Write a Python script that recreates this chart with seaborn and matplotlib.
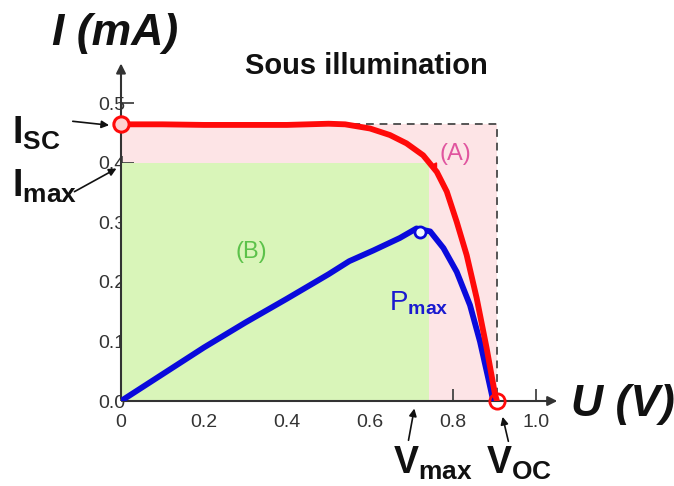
import matplotlib
matplotlib.use("Agg")
import matplotlib.pyplot as plt
import seaborn as sns
import pandas as pd

# I-V characteristic of the cell under illumination (U in V, I in mA)
u_iv = [0.0, 0.1, 0.2, 0.3, 0.4, 0.5, 0.54, 0.6, 0.648, 0.688, 0.728, 0.761, 0.785,
        0.809, 0.833, 0.857, 0.881, 0.901, 0.906]
i_iv = [0.465, 0.465, 0.464, 0.464, 0.464, 0.466, 0.465, 0.458, 0.447, 0.433, 0.413, 0.385, 0.352,
        0.301, 0.245, 0.173, 0.089, 0.012, 0.0]

# delivered power curve
u_p = [0.0, 0.1, 0.2, 0.3, 0.4, 0.5, 0.55, 0.608, 0.672, 0.712, 0.745, 0.777, 0.809,
       0.841, 0.865, 0.885, 0.897]
p_p = [0.0, 0.045, 0.090, 0.132, 0.172, 0.213, 0.235, 0.253, 0.274, 0.290, 0.285, 0.257, 0.217,
       0.161, 0.100, 0.038, 0.0]

# characteristic points
i_sc = 0.465
v_oc = 0.906
i_max = 0.40
v_max = 0.742
p_max_pt = (0.72, 0.284)

x_ticks = [0, 0.2, 0.4, 0.6, 0.8, 1.0]
x_tick_labels = ["0", "0.2", "0.4", "0.6", "0.8", "1.0"]
y_ticks = [0.0, 0.1, 0.2, 0.3, 0.4, 0.5]
y_tick_labels = ["0.0", "0.1", "0.2", "0.3", "0.4", "0.5"]

sns.set_theme(style="white")
plt.rcParams["font.family"] = ["Liberation Sans", "DejaVu Sans"]
plt.rcParams["mathtext.fontset"] = "custom"
plt.rcParams["mathtext.rm"] = "Liberation Sans"
plt.rcParams["mathtext.bf"] = "Liberation Sans:bold"
plt.rcParams["mathtext.it"] = "Liberation Sans:italic"

W, H = 674, 486
fig = plt.figure(figsize=(W / 100, H / 100), dpi=100)

x0, y0 = 121, 401          # pixel position of the origin
px_x, px_y = 415.0, 595.0  # pixels per unit
xmax, ymax = 1.1, 0.6
ax = fig.add_axes([x0 / W, (H - y0) / H, xmax * px_x / W, ymax * px_y / H])
ax.set_xlim(0, xmax)
ax.set_ylim(0, ymax)
for s in ax.spines.values():
    s.set_visible(False)
ax.set_facecolor("none")

def fx(px):
    return px / W

def fy(py):
    return 1 - py / H

# shaded areas
ax.fill_between([0, v_oc], 0, i_sc, color="#fde4e6", lw=0, zorder=0)
ax.fill_between([0, v_max], 0, i_max, color="#d9f5b9", lw=0, zorder=1)

# dashed rectangle Isc x Voc
ax.plot([0, v_oc, v_oc], [i_sc, i_sc, 0], ls=(0, (4, 3)), color="#555555", lw=1.4, zorder=2)

# curves
iv = pd.DataFrame({"U": u_iv, "I": i_iv})
pw = pd.DataFrame({"U": u_p, "P": p_p})
sns.lineplot(data=pw, x="U", y="P", color="#0a0adc", lw=4.2, ax=ax, zorder=4,
             solid_capstyle="round", solid_joinstyle="round")
sns.lineplot(data=iv, x="U", y="I", color="#ff0a0a", lw=4.2, ax=ax, zorder=5,
             solid_capstyle="round", solid_joinstyle="round")
ax.set_xlabel("")
ax.set_ylabel("")

# markers
ax.plot([0], [i_sc], "o", ms=11, mfc="#ffd0d0", mec="#ff0a0a", mew=2.2, zorder=6, clip_on=False)
ax.plot([v_oc], [0], "o", ms=11, mfc="none", mec="#ff0a0a", mew=2.0, zorder=6, clip_on=False)
ax.plot([p_max_pt[0]], [p_max_pt[1]], "o", ms=8, mfc="#f0f8ff", mec="#0a0adc", mew=2.0, zorder=6)

# small red pointer to the maximum power corner
ax.annotate("", xy=(v_max - 0.004, i_max - 0.004), xytext=(v_max + 0.012, i_max - 0.004),
            arrowprops=dict(arrowstyle="-|>", color="#ff0a0a", lw=1.2, mutation_scale=8), zorder=6)

# axes with arrows
ax.annotate("", xy=(1.058, 0), xytext=(0, 0),
            arrowprops=dict(arrowstyle="-|>", color="#333333", lw=1.5, mutation_scale=14),
            annotation_clip=False, zorder=3)
ax.annotate("", xy=(0, 0.572), xytext=(0, 0),
            arrowprops=dict(arrowstyle="-|>", color="#333333", lw=1.5, mutation_scale=14),
            annotation_clip=False, zorder=3)

ax.set_xticks(x_ticks)
ax.set_xticklabels(x_tick_labels)
ax.set_yticks(y_ticks)
ax.set_yticklabels(y_tick_labels)
ax.tick_params(axis="both", which="both", direction="in", length=9, width=1.3,
               color="#444444", labelcolor="#333333", labelsize=14)
ax.tick_params(axis="x", pad=9, bottom=True, left=False)
ax.tick_params(axis="y", pad=-3, left=True, bottom=False)

# axis titles
fig.text(fx(52), fy(33), "I (mA)", fontsize=32, fontweight="bold", fontstyle="italic",
         ha="left", va="center", color="#111111")
fig.text(fx(571), fy(404), "U (V)", fontsize=32, fontweight="bold", fontstyle="italic",
         ha="left", va="center", color="#111111")
fig.text(fx(366), fy(66), "Sous illumination", fontsize=21, fontweight="bold",
         ha="center", va="center", color="#111111")

# region labels
ax.text(0.805, 0.415, "(A)", fontsize=17, color="#e0559f", ha="center", va="center", zorder=7)
ax.text(0.315, 0.25, "(B)", fontsize=17, color="#5cc24a", ha="center", va="center", zorder=7)
ax.text(0.645, 0.165, r"$\mathrm{P}_{\mathbf{max}}$", fontsize=20, color="#1a1ad0",
        ha="left", va="center", zorder=7)

# characteristic point labels with pointers
lab = dict(fontsize=27, color="#111111", ha="left", va="center")
fig.text(fx(12), fy(133), r"$\mathbf{I_{SC}}$", **lab)
fig.text(fx(12), fy(186), r"$\mathbf{I_{max}}$", **lab)
fig.text(fx(393), fy(463), r"$\mathbf{V_{max}}$", **lab)
fig.text(fx(486), fy(463), r"$\mathbf{V_{OC}}$", **lab)

arrow = dict(arrowstyle="-|>", color="#111111", lw=1.2, mutation_scale=11)
ax.annotate("", xy=(-0.022, i_sc - 0.002), xytext=(fx(70), fy(121)), textcoords="figure fraction",
            arrowprops=arrow, annotation_clip=False)
ax.annotate("", xy=(-0.005, 0.393), xytext=(fx(72), fy(193)), textcoords="figure fraction",
            arrowprops=arrow, annotation_clip=False)
ax.annotate("", xy=(0.708, -0.008), xytext=(fx(408), fy(443)), textcoords="figure fraction",
            arrowprops=arrow, annotation_clip=False)
ax.annotate("", xy=(0.918, -0.022), xytext=(fx(509), fy(444)), textcoords="figure fraction",
            arrowprops=arrow, annotation_clip=False)

fig.savefig("out.png", dpi=100, facecolor="white")
